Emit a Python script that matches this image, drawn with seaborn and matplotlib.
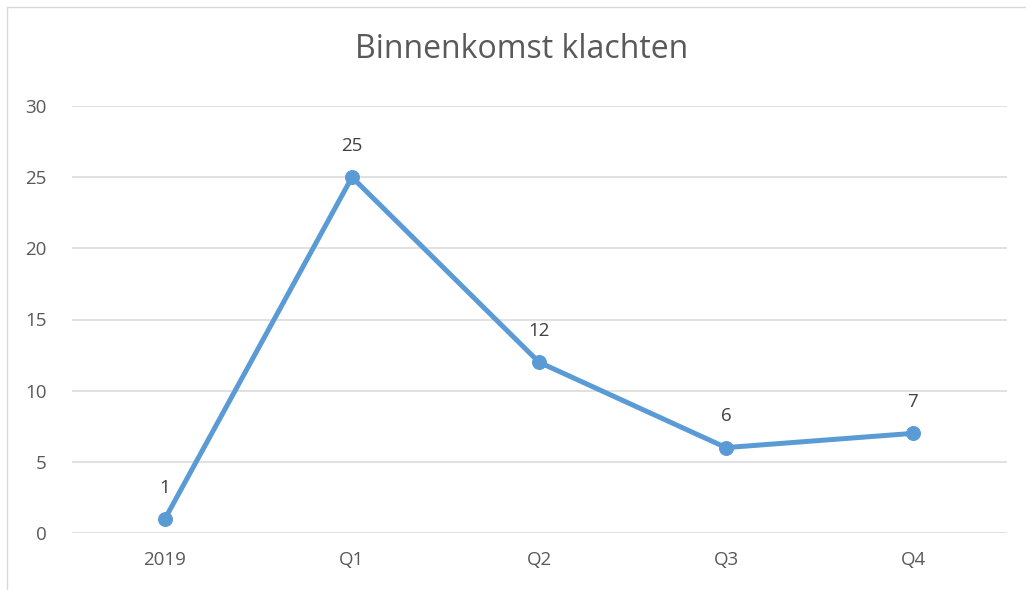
import matplotlib
matplotlib.use('Agg')
import matplotlib.pyplot as plt
import seaborn as sns
import pandas as pd
from matplotlib.lines import Line2D

# data
periodes = ["2019", "Q1", "Q2", "Q3", "Q4"]
klachten = [1, 25, 12, 6, 7]
y_ticks = [0, 5, 10, 15, 20, 25, 30]

df = pd.DataFrame({"periode": periodes, "klachten": klachten})

sns.set_style("white")
plt.rcParams['font.family'] = ['Open Sans', 'DejaVu Sans']

fig = plt.figure(figsize=(10.26, 5.9), dpi=100)
ax = fig.add_axes([71.5 / 1026, 1 - 533 / 590, 935 / 1026, 427 / 590])

blauw = "#5B9BD5"
sns.lineplot(data=df, x="periode", y="klachten", ax=ax, color=blauw, linewidth=3.6,
             marker="o", markersize=10, markeredgecolor=blauw, sort=False, zorder=3)

ax.set_xlim(-0.5, len(periodes) - 0.5)
ax.set_ylim(0, 30)
ax.set_yticks(y_ticks)
ax.yaxis.grid(True, color="#D9D9D9", linewidth=1.1)
ax.xaxis.grid(False)
for s in ax.spines.values():
    s.set_visible(False)
ax.tick_params(axis="both", length=0, labelsize=13.5, labelcolor="#595959")
ax.tick_params(axis="y", pad=18)
ax.tick_params(axis="x", pad=13)
ax.set_xlabel("")
ax.set_ylabel("")

# data labels
for i, v in enumerate(klachten):
    ax.annotate(str(v), (i, v), xytext=(0, 16), textcoords="offset points",
                ha="center", va="bottom", fontsize=13.5, color="#404040")

fig.text(522 / 1026, 1 - 50 / 590, "Binnenkomst klachten", ha="center", va="center",
         fontsize=23, color="#595959")

# chart frame (cropped)
fig.add_artist(Line2D([7 / 1026, 1], [1 - 7 / 590, 1 - 7 / 590], transform=fig.transFigure,
                      color="#D9D9D9", linewidth=1))
fig.add_artist(Line2D([7 / 1026, 7 / 1026], [0, 1 - 7 / 590], transform=fig.transFigure,
                      color="#D9D9D9", linewidth=1))

fig.savefig("out.png", dpi=100)
